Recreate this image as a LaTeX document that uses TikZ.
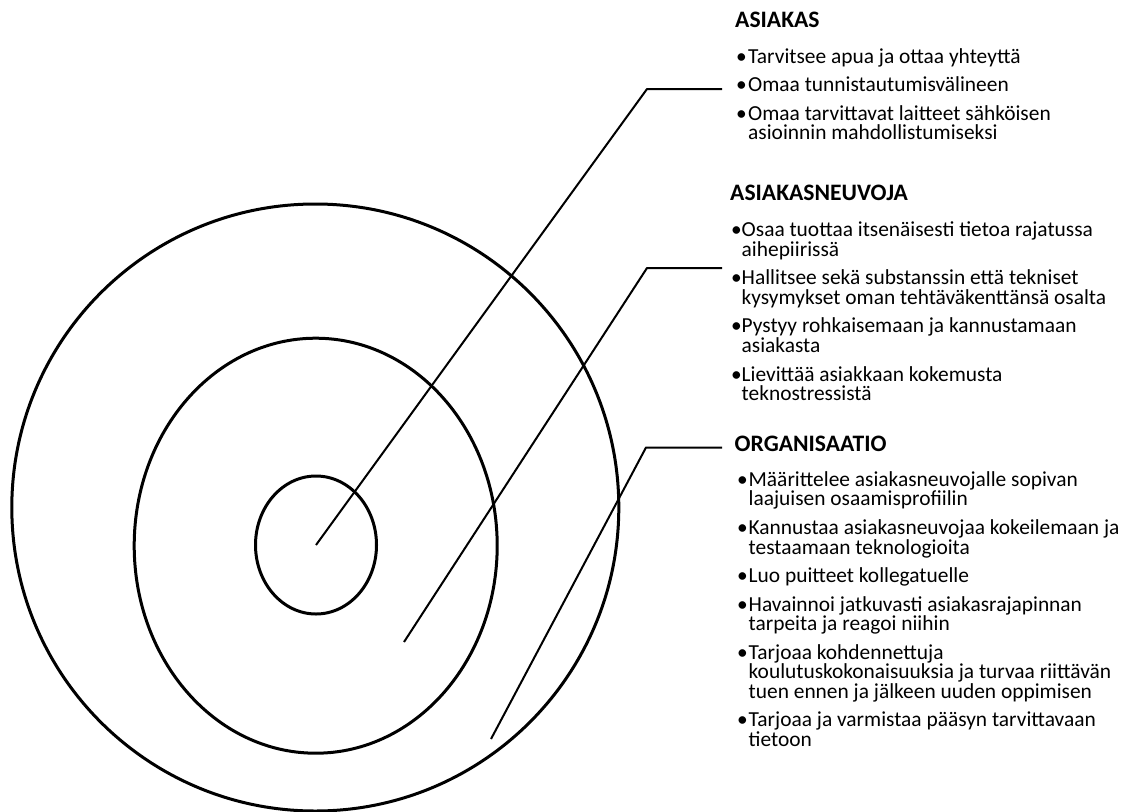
\documentclass[tikz,border=0pt]{standalone}
\usepackage{fontspec}
\setmainfont{Carlito}
\tikzset{
  ring/.style={line width=3pt, draw=black},
  leader/.style={line width=2pt, draw=black, line join=round},
  head/.style={anchor=base west, inner sep=0pt, font=\fontsize{23.6}{25}\selectfont\bfseries},
  items/.style={anchor=base west, inner sep=0pt, font=\fontsize{21.4}{19.6}\selectfont},
}
\newcommand\bl[1]{\makebox[#1][l]{•}}
\newcommand\gap{\vskip8.9pt}
\begin{document}
\begin{tikzpicture}[x=1pt,y=-1pt]
\useasboundingbox (0,0) rectangle (1121,811);
% rings
\draw[ring] (315.3,507.5) circle [radius=303.5];
\draw[ring] (315.7,545.7) ellipse [x radius=181.5, y radius=207.5];
\draw[ring] (316,545) ellipse [x radius=60.5, y radius=69];
% leader coordinates
\coordinate (s1) at (316,545);
\coordinate (k1) at (647,89);
\coordinate (e1) at (722,89);
\coordinate (s2) at (404,642);
\coordinate (k2) at (647,268);
\coordinate (e2) at (722,268);
\coordinate (s3) at (491,739);
\coordinate (k3) at (646,447.5);
\coordinate (e3) at (722,447.5);
\draw[leader] (s1) -- (k1) -- (e1);
\draw[leader] (s2) -- (k2) -- (e2);
\draw[leader] (s3) -- (k3) -- (e3);
% ASIAKAS
\node[head] (h1) at (735,27.3) {ASIAKAS};
\node[items] (l1) at (736,63.3) {\vtop{\baselineskip=19.6pt\lineskiplimit=-100pt
  \hbox{\bl{12pt}Tarvitsee apua ja ottaa yhteyttä}\gap
  \hbox{\bl{12pt}Omaa tunnistautumisvälineen}\gap
  \hbox{\bl{12pt}Omaa tarvittavat laitteet sähköisen}
  \hbox{\hspace*{12pt}asioinnin mahdollistumiseksi}}};
% ASIAKASNEUVOJA
\node[head] (h2) at (730,200.7) {ASIAKASNEUVOJA};
\node[items] (l2) at (731,236.7) {\vtop{\baselineskip=19.6pt\lineskiplimit=-100pt
  \hbox{\bl{10.5pt}Osaa tuottaa itsenäisesti tietoa rajatussa}
  \hbox{\hspace*{10.5pt}aihepiirissä}\gap
  \hbox{\bl{10.5pt}Hallitsee sekä substanssin että tekniset}
  \hbox{\hspace*{10.5pt}kysymykset oman tehtäväkenttänsä osalta}\gap
  \hbox{\bl{10.5pt}Pystyy rohkaisemaan ja kannustamaan}
  \hbox{\hspace*{10.5pt}asiakasta}\gap
  \hbox{\bl{10.5pt}Lievittää asiakkaan kokemusta}
  \hbox{\hspace*{10.5pt}teknostressistä}}};
% ORGANISAATIO
\node[head] (h3) at (734.5,451) {ORGANISAATIO};
\node[items] (l3) at (737,486.3) {\vtop{\baselineskip=19.6pt\lineskiplimit=-100pt
  \hbox{\bl{11.5pt}Määrittelee asiakasneuvojalle sopivan}
  \hbox{\hspace*{11.5pt}laajuisen osaamisprofiilin}\gap
  \hbox{\bl{11.5pt}Kannustaa asiakasneuvojaa kokeilemaan ja}
  \hbox{\hspace*{11.5pt}testaamaan teknologioita}\gap
  \hbox{\bl{11.5pt}Luo puitteet kollegatuelle}\gap
  \hbox{\bl{11.5pt}Havainnoi jatkuvasti asiakasrajapinnan}
  \hbox{\hspace*{11.5pt}tarpeita ja reagoi niihin}\gap
  \hbox{\bl{11.5pt}Tarjoaa kohdennettuja}
  \hbox{\hspace*{11.5pt}koulutuskokonaisuuksia ja turvaa riittävän}
  \hbox{\hspace*{11.5pt}tuen ennen ja jälkeen uuden oppimisen}\gap
  \hbox{\bl{11.5pt}Tarjoaa ja varmistaa pääsyn tarvittavaan}
  \hbox{\hspace*{11.5pt}tietoon}}};
\end{tikzpicture}
\end{document}
